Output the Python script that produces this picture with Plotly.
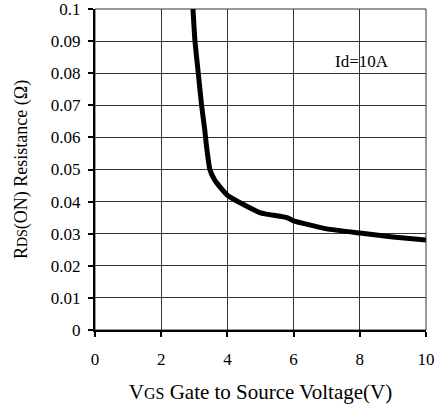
import plotly.graph_objects as go

vgs = [2.96, 3.02, 3.12, 3.22, 3.32, 3.36, 3.47, 3.6, 3.78, 4.0, 4.5, 5.0, 5.8, 6.0, 7.0, 8.0, 9.0, 10.0]
rds = [0.1, 0.09, 0.08, 0.07, 0.062, 0.058, 0.05, 0.047, 0.0445, 0.042, 0.039, 0.0365, 0.035, 0.034, 0.0315, 0.0302, 0.029, 0.028]

x_ticks = [0, 2, 4, 6, 8, 10]
y_ticks = [0, 0.01, 0.02, 0.03, 0.04, 0.05, 0.06, 0.07, 0.08, 0.09, 0.1]
y_labels = ["0", "0.01", "0.02", "0.03", "0.04", "0.05", "0.06", "0.07", "0.08", "0.09", "0.1"]

FONT = "Liberation Serif"

fig = go.Figure()
fig.add_trace(go.Scatter(x=vgs, y=rds, mode="lines",
                         line=dict(color="black", width=5, shape="spline", smoothing=0.4),
                         showlegend=False, hoverinfo="skip", cliponaxis=True))

fig.add_annotation(x=8.07, y=0.0835, text="Id=10A", showarrow=False,
                   font=dict(family=FONT, size=17, color="black"))

# thin frame on top/right (grid lines at the range edges)
fig.add_shape(type="rect", xref="paper", yref="paper", x0=0, y0=0, x1=1, y1=1,
              line=dict(color="#333", width=1), layer="between")

fig.update_layout(
    width=438, height=412,
    margin=dict(l=95, r=12, t=9, b=82),
    paper_bgcolor="white", plot_bgcolor="white",
    font=dict(family=FONT, size=17, color="black"),
    xaxis=dict(range=[0, 10], tickvals=x_ticks, ticktext=[str(v) for v in x_ticks],
               showgrid=True, gridcolor="#333", gridwidth=1,
               showline=True, linecolor="black", linewidth=2,
               ticks="outside", ticklen=5, tickcolor="black", tickwidth=2,
               ticklabelstandoff=8, automargin=False, ticklabeloverflow="allow",
               zeroline=False,
               title=dict(text="V<span style='font-size:16px'>GS</span> Gate to Source Voltage(V)",
                          font=dict(family=FONT, size=21), standoff=16)),
    yaxis=dict(range=[0, 0.1], tickvals=y_ticks, ticktext=y_labels,
               showgrid=True, gridcolor="#333", gridwidth=1,
               showline=True, linecolor="black", linewidth=2,
               ticks="outside", ticklen=5, tickcolor="black", tickwidth=2,
               ticklabelstandoff=4, automargin=False, ticklabeloverflow="allow",
               zeroline=False,
               title=dict(text="R<span style='font-size:14px'>DS</span>(ON) Resistance (Ω)",
                          font=dict(family=FONT, size=18), standoff=19)),
)

fig.write_html("out.html")
